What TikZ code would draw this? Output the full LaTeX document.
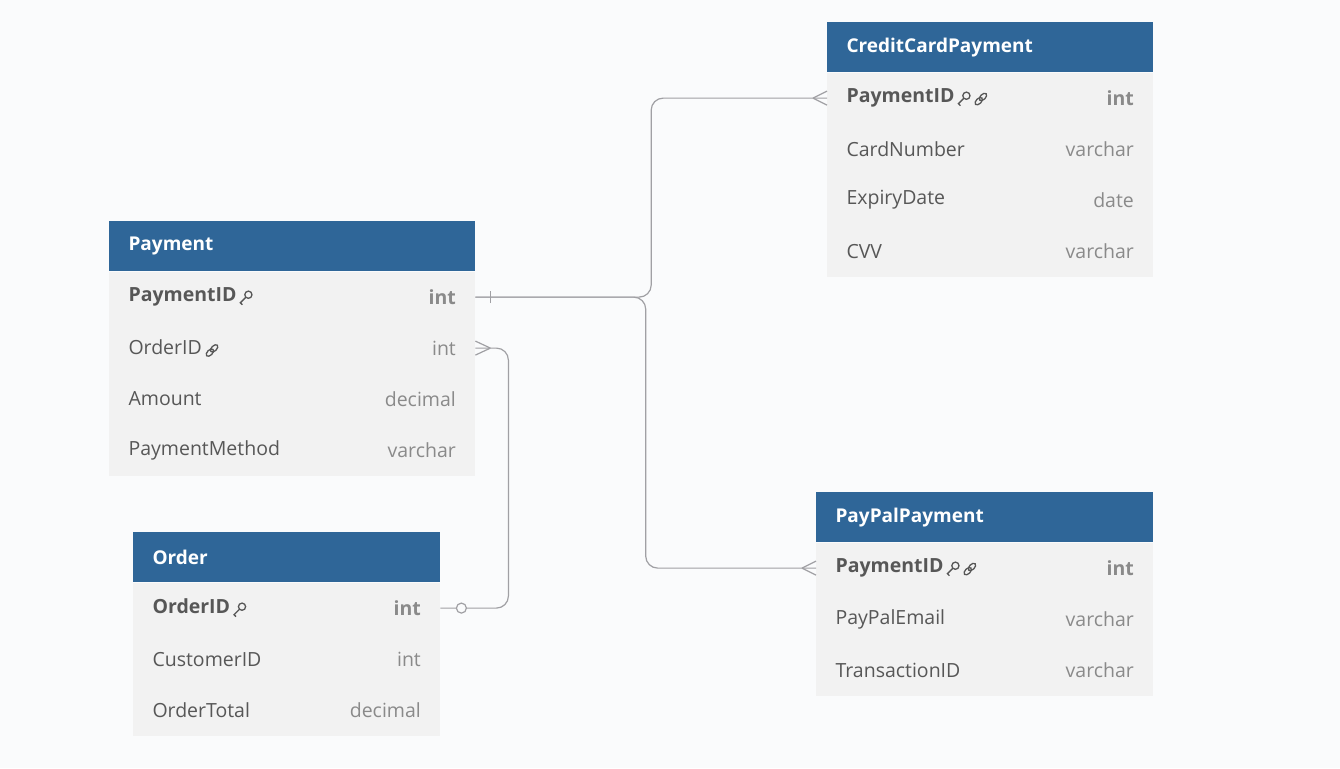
\documentclass[tikz,border=0pt]{standalone}
\usepackage{fontspec}
\setmainfont{Open Sans}
\usetikzlibrary{positioning,calc}
\definecolor{hdrblue}{HTML}{2F6698}
\definecolor{rowgray}{HTML}{F2F2F2}
\definecolor{pagebg}{HTML}{FAFBFC}
\definecolor{namegray}{HTML}{575757}
\definecolor{typegray}{HTML}{8A8A8A}
\definecolor{linegray}{HTML}{A0A0A4}
\newcommand{\keyicon}{\tikz[baseline=-4pt, x=1pt, y=1pt, line width=1.3pt, draw=namegray]{%
  \draw (3,3) circle (3.6); \draw (0.5,0.5) -- (-5,-5) -- (-3,-7);}}
\newcommand{\linkicon}{\tikz[baseline=-4pt, x=1pt, y=1pt, line width=1.3pt, draw=namegray]{%
  \draw[rotate=45] (2.5,0) ellipse (4.5 and 2.6); \draw[rotate=45] (-3.5,0) ellipse (4.5 and 2.6);}}
\tikzset{
  hdr/.style = {fill=hdrblue, minimum height=50pt, inner sep=0pt, anchor=north west},
  title/.style = {anchor=west, text=white, font=\bfseries\fontsize{19}{22}\selectfont},
  row/.style = {fill=rowgray, minimum height=51pt, inner sep=0pt, anchor=north west},
  pk/.style = {anchor=west, text=namegray, font=\bfseries\fontsize{19.5}{22}\selectfont},
  col/.style = {anchor=west, text=namegray, font=\fontsize{19.5}{22}\selectfont},
  pk-type/.style = {anchor=east, text=typegray, font=\bfseries\fontsize{19.5}{22}\selectfont},
  col-type/.style = {anchor=east, text=typegray, font=\fontsize{19.5}{22}\selectfont},
  conn/.style = {draw=linegray, line width=1.2pt, rounded corners=12pt}
}
\begin{document}
\begin{tikzpicture}[x=1pt, y=-1pt]
\fill[pagebg] (0,0) rectangle (1340,768);
\useasboundingbox (0,0) rectangle (1340,768);
% Payment
\node[hdr, minimum width=366pt] (pay) at (109,221) {};
\node[title] at ([xshift=16pt]pay.west) {Payment};
\foreach \i/\n/\t/\s in {1/{PaymentID\,\keyicon}/int/pk, 2/{OrderID\,\linkicon}/int/col,
    3/Amount/decimal/col, 4/PaymentMethod/varchar/col} {
  \node[row, minimum width=366pt] (pay\i) at ($(pay.south west)+(0,{51*(\i-1)})$) {};
  \node[\s] at ([xshift=16pt]pay\i.west) {\n};
  \node[\s-type] at ([xshift=-16pt]pay\i.east) {\t};
}
% Order
\node[hdr, minimum width=307pt] (ord) at (133,532) {};
\node[title] at ([xshift=16pt]ord.west) {Order};
\foreach \i/\n/\t/\s in {1/{OrderID\,\keyicon}/int/pk, 2/CustomerID/int/col, 3/OrderTotal/decimal/col} {
  \node[row, minimum width=307pt] (ord\i) at ($(ord.south west)+(0,{51*(\i-1)})$) {};
  \node[\s] at ([xshift=16pt]ord\i.west) {\n};
  \node[\s-type] at ([xshift=-16pt]ord\i.east) {\t};
}
% CreditCardPayment
\node[hdr, minimum width=326pt] (cc) at (827,22) {};
\node[title] at ([xshift=16pt]cc.west) {CreditCardPayment};
\foreach \i/\n/\t/\s in {1/{PaymentID\,\keyicon\,\linkicon}/int/pk, 2/CardNumber/varchar/col,
    3/ExpiryDate/date/col, 4/CVV/varchar/col} {
  \node[row, minimum width=326pt] (cc\i) at ($(cc.south west)+(0,{51*(\i-1)})$) {};
  \node[\s] at ([xshift=16pt]cc\i.west) {\n};
  \node[\s-type] at ([xshift=-16pt]cc\i.east) {\t};
}
% PayPalPayment
\node[hdr, minimum width=337pt] (pp) at (816,492) {};
\node[title] at ([xshift=16pt]pp.west) {PayPalPayment};
\foreach \i/\n/\t/\s in {1/{PaymentID\,\keyicon\,\linkicon}/int/pk, 2/PayPalEmail/varchar/col,
    3/TransactionID/varchar/col} {
  \node[row, minimum width=337pt] (pp\i) at ($(pp.south west)+(0,{51*(\i-1)})$) {};
  \node[\s] at ([xshift=16pt]pp\i.west) {\n};
  \node[\s-type] at ([xshift=-16pt]pp\i.east) {\t};
}
% relations
\draw[conn] (pay1.east) -| ($(pay1.east)!0.5!(cc1.west)$) |- (cc1.west);
\draw[conn] (pay1.east) -| ($(pay1.east)!0.5!(pp1.west)$) |- (pp1.west);
\draw[conn] (ord1.east) -- ++(68,0) |- (pay2.east);
\draw[conn] ([xshift=15pt,yshift=-6pt]pay1.east) -- ([xshift=15pt,yshift=6pt]pay1.east);
\draw[conn] ([xshift=15pt]pay2.east) -- ([yshift=-7pt]pay2.east) ([xshift=15pt]pay2.east) -- ([yshift=7pt]pay2.east);
\draw[conn] ([xshift=-14pt]cc1.west) -- ([yshift=-7pt]cc1.west) ([xshift=-14pt]cc1.west) -- ([yshift=7pt]cc1.west);
\draw[conn] ([xshift=-14pt]pp1.west) -- ([yshift=-7pt]pp1.west) ([xshift=-14pt]pp1.west) -- ([yshift=7pt]pp1.west);
\draw[conn, fill=pagebg] ([xshift=21pt]ord1.east) circle (5);
\end{tikzpicture}
\end{document}
